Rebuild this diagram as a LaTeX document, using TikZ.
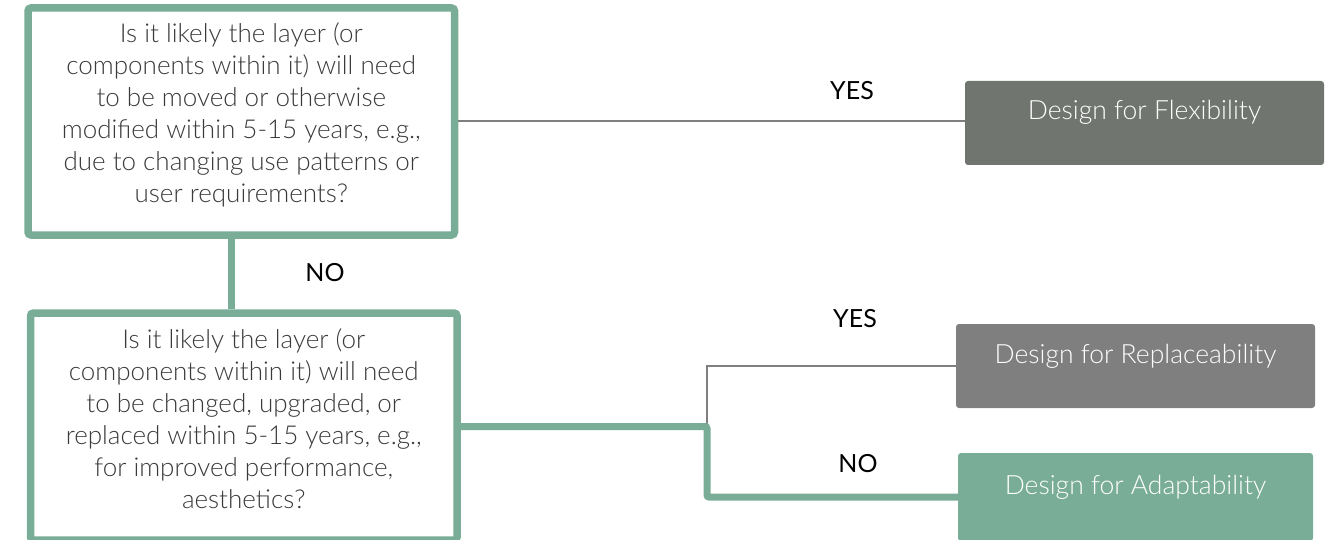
\documentclass[tikz,border=0pt]{standalone}
\usepackage{fontspec}
\setmainfont{Lato}
\newfontfamily\latolight{Lato Light}
\definecolor{sage}{HTML}{79AD98}
\definecolor{slate}{HTML}{717570}
\definecolor{midgray}{HTML}{7F7F7F}
\definecolor{inkgray}{HTML}{3A3A3A}
\begin{document}
\begin{tikzpicture}[x=1pt,y=-1pt,
  qbox/.style={draw=sage, line width=7.5pt, fill=white, rounded corners=3pt,
    minimum width=426.5pt, minimum height=227pt, inner sep=0pt},
  qtext/.style={align=center, text=inkgray, inner sep=0pt,
    font=\latolight\fontsize{26}{32}\selectfont},
  resbox/.style={rounded corners=3pt, minimum height=84pt, inner sep=0pt},
  restext/.style={text=white, inner sep=0pt,
    font=\latolight\fontsize{26.5}{30}\selectfont},
  answer/.style={text=black, inner sep=0pt, font=\fontsize{25}{30}\selectfont},
  thinlink/.style={draw=midgray, line width=2pt},
  thicklink/.style={draw=sage, line width=7pt, rounded corners=2pt},
]
\useasboundingbox (0,0) rectangle (1332,540);
\clip (0,0) rectangle (1332,540);

% question boxes
\node[qbox] (q1) at (241.25,121.5) {};
\node[qbox] (q2) at (243.75,426.5) {};

% outcome boxes
\node[resbox, fill=slate, minimum width=359pt] (flex) at (1144.5,123) {};
\node[resbox, fill=midgray, minimum width=359pt] (repl) at (1135.5,366) {};
\node[resbox, fill=sage, minimum width=355pt, minimum height=88pt] (adapt) at (1135.5,497) {};

% connectors
\coordinate (j1) at (231.5,272);
\coordinate (j2) at (707,426.5);
\draw[thicklink] (q1.south -| j1) -- (q2.north -| j1);
\draw[thinlink] (q1.east) -- (q1.east -| flex.west);
\draw[thinlink] (j2) |- (repl.west);
\draw[thicklink] (q2.east) -- (j2) |- (adapt.west);

% question texts
\node[qtext] (q1t) at ([yshift=6.5pt]q1.center) {Is it likely the layer (or\\
components within it) will need\\
to be moved or otherwise\\
modified within 5-15 years, e.g.,\\
due to changing use patterns or\\
user requirements?};
\node[qtext] (q2t) at ([yshift=7.5pt]q2.center) {Is it likely the layer (or\\
components within it) will need\\
to be changed, upgraded, or\\
replaced within 5-15 years, e.g.,\\
for improved performance,\\
aesthetics?};

% outcome texts
\node[restext] (flext) at ([yshift=11pt]flex.center) {Design for Flexibility};
\node[restext] (replt) at ([yshift=10pt]repl.center) {Design for Replaceability};
\node[restext] (adaptt) at ([yshift=10pt]adapt.center) {Design for Adaptability};

% answer labels
\node[answer] (yes1) at (852,91) {YES};
\node[answer] (no1) at (325,272.5) {NO};
\node[answer] (yes2) at (855,319) {YES};
\node[answer] (no2) at (858,463.5) {NO};
\end{tikzpicture}
\end{document}
